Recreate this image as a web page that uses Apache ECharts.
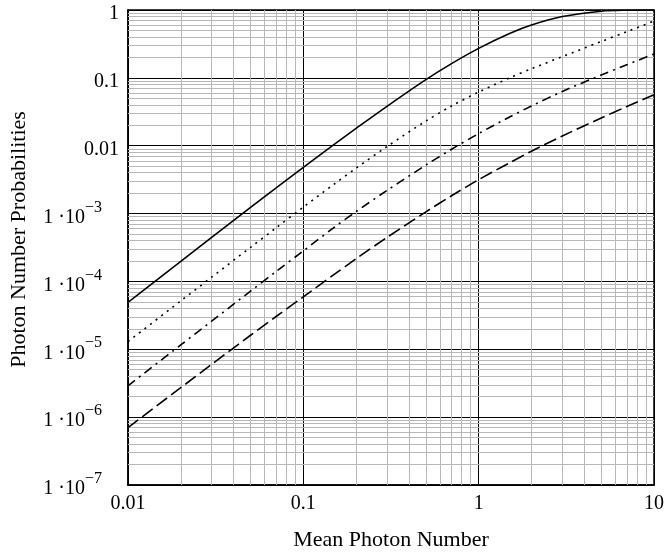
<!DOCTYPE html>
<html>
<head>
<meta charset="utf-8">
<script src="https://cdn.jsdelivr.net/npm/echarts@6/dist/echarts.min.js"></script>
<style>
html,body{margin:0;padding:0;background:#fff;}
#chart{width:669px;height:556px;}
</style>
</head>
<body>
<div id="chart"></div>
<script>
// Mean photon number sample points
const meanPhoton = [0.01, 0.02, 0.03, 0.05, 0.07, 0.1, 0.15, 0.2, 0.3, 0.5, 0.7, 1, 1.5, 2, 3, 5, 7, 10];
// Curves
const solidCurve   = [4.9e-5, 1.98e-4, 4.45e-4, 1.23e-3, 2.4e-3, 4.8e-3, 0.0105, 0.018, 0.038, 0.094, 0.162, 0.272, 0.45, 0.60, 0.80, 0.96, 0.993, 1.0];
const dottedCurve  = [1.3e-5, 5.16e-5, 1.156e-4, 3.18e-4, 6.18e-4, 1.245e-3, 2.72e-3, 4.68e-3, 9.7e-3, 0.0231, 0.0385, 0.0618, 0.0998, 0.136, 0.2056, 0.343, 0.48, 0.686];
const dashDotCurve = [2.9e-6, 1.16e-5, 2.6e-5, 7.2e-5, 1.4e-4, 2.82e-4, 6.27e-4, 1.07e-3, 2.19e-3, 5.18e-3, 8.87e-3, 0.0151, 0.0265, 0.0385, 0.063, 0.11, 0.156, 0.225];
const dashedCurve  = [7.0e-7, 2.72e-6, 6.0e-6, 1.61e-5, 3.04e-5, 5.94e-5, 1.27e-4, 2.16e-4, 4.45e-4, 1.06e-3, 1.83e-3, 3.16e-3, 5.6e-3, 8.3e-3, 0.0139, 0.0256, 0.0378, 0.0564];

// Tick labels
const xTickValues = [0.01, 0.1, 1, 10];
const xTickLabels = ['0.01', '0.1', '1', '10'];
const yTickValues = [1, 0.1, 0.01, 1e-3, 1e-4, 1e-5, 1e-6, 1e-7];
const yTickPlain  = ['1', '0.1', '0.01', null, null, null, null, null];
const yTickExp    = [null, null, null, '−3', '−4', '−5', '−6', '−7'];

const xDecades = [0.01, 0.1, 1];
const yDecades = [1e-7, 1e-6, 1e-5, 1e-4, 1e-3, 0.01, 0.1];
const minorMults = [2, 3, 4, 5, 6, 7, 8, 9];
const X_MIN = 0.01, X_MAX = 10, Y_MIN = 1e-7, Y_MAX = 1;

const minorLines = [];
xDecades.forEach(d => minorMults.forEach(m => {
  const v = d * m; minorLines.push({coords: [[v, Y_MIN], [v, Y_MAX]]});
}));
yDecades.forEach(d => minorMults.forEach(m => {
  const v = d * m; minorLines.push({coords: [[X_MIN, v], [X_MAX, v]]});
}));

function pairs(ys) { return meanPhoton.map((x, i) => [x, ys[i]]); }
function closeIdx(arr, v) {
  let best = 0, bd = Infinity;
  arr.forEach((a, i) => { const d = Math.abs(Math.log10(a) - Math.log10(v)); if (d < bd) { bd = d; best = i; } });
  return best;
}

const FONT = 'Liberation Serif';
const chart = echarts.init(document.getElementById('chart'), null, {renderer: 'canvas'});

const curveStyle = (type) => ({color: '#000', width: 1.6, type: type});

chart.setOption({
  animation: false,
  backgroundColor: '#fff',
  grid: {left: 126, right: 15, top: 10, bottom: 68, show: true, borderColor: '#000', borderWidth: 1.5, backgroundColor: 'transparent'},
  xAxis: {
    type: 'log', logBase: 10, min: X_MIN, max: X_MAX, interval: 1,
    name: 'Mean Photon Number', nameLocation: 'middle', nameGap: 44,
    nameTextStyle: {fontFamily: FONT, fontSize: 22, color: '#000'},
    axisLine: {show: true, lineStyle: {color: '#000', width: 1.5}},
    axisTick: {show: false},
    axisLabel: {
      fontFamily: FONT, fontSize: 20, color: '#000', margin: 9,
      formatter: v => xTickLabels[closeIdx(xTickValues, v)]
    },
    splitLine: {show: true, lineStyle: {color: '#000', width: 1}},
    minorSplitLine: {show: false}
  },
  yAxis: {
    type: 'log', logBase: 10, min: Y_MIN, max: Y_MAX, interval: 1,
    name: 'Photon Number Probabilities', nameLocation: 'middle', nameGap: 98, nameRotate: 90,
    nameTextStyle: {fontFamily: FONT, fontSize: 22, color: '#000', padding: [0, 0, 0, 16]},
    axisLine: {show: true, lineStyle: {color: '#000', width: 1.5}},
    axisTick: {show: false},
    axisLabel: {
      fontFamily: FONT, fontSize: 20, color: '#000', margin: 9,
      padding: [8, 0, 0, 0],
      formatter: v => {
        const i = closeIdx(yTickValues, v);
        if (yTickPlain[i] !== null) return '{m|' + yTickPlain[i] + '}';
        return '{m|1 ·10}{e|' + yTickExp[i] + '}{s| }';
      },
      rich: {
        m: {fontFamily: FONT, fontSize: 20, color: '#000'},
        e: {fontFamily: FONT, fontSize: 16, color: '#000', padding: [0, 0, 20, 0]},
        s: {fontFamily: FONT, fontSize: 20, width: 17}
      }
    },
    splitLine: {show: true, lineStyle: {color: '#000', width: 1}},
    minorSplitLine: {show: false}
  },
  series: [
    {
      type: 'lines', coordinateSystem: 'cartesian2d', polyline: false, silent: true, z: 1,
      lineStyle: {color: '#b8b8b8', width: 1, opacity: 1},
      data: minorLines
    },
    {type: 'line', name: 'n1', data: pairs(solidCurve), showSymbol: false, smooth: 0.3, z: 5, lineStyle: curveStyle('solid')},
    {type: 'line', name: 'n2', data: pairs(dottedCurve), showSymbol: false, smooth: 0.3, z: 5, lineStyle: curveStyle([2, 5])},
    {type: 'line', name: 'n3', data: pairs(dashDotCurve), showSymbol: false, smooth: 0.3, z: 5, lineStyle: curveStyle([9, 5, 2, 5])},
    {type: 'line', name: 'n4', data: pairs(dashedCurve), showSymbol: false, smooth: 0.3, z: 5, lineStyle: curveStyle([13, 5])}
  ]
});
</script>
</body>
</html>
